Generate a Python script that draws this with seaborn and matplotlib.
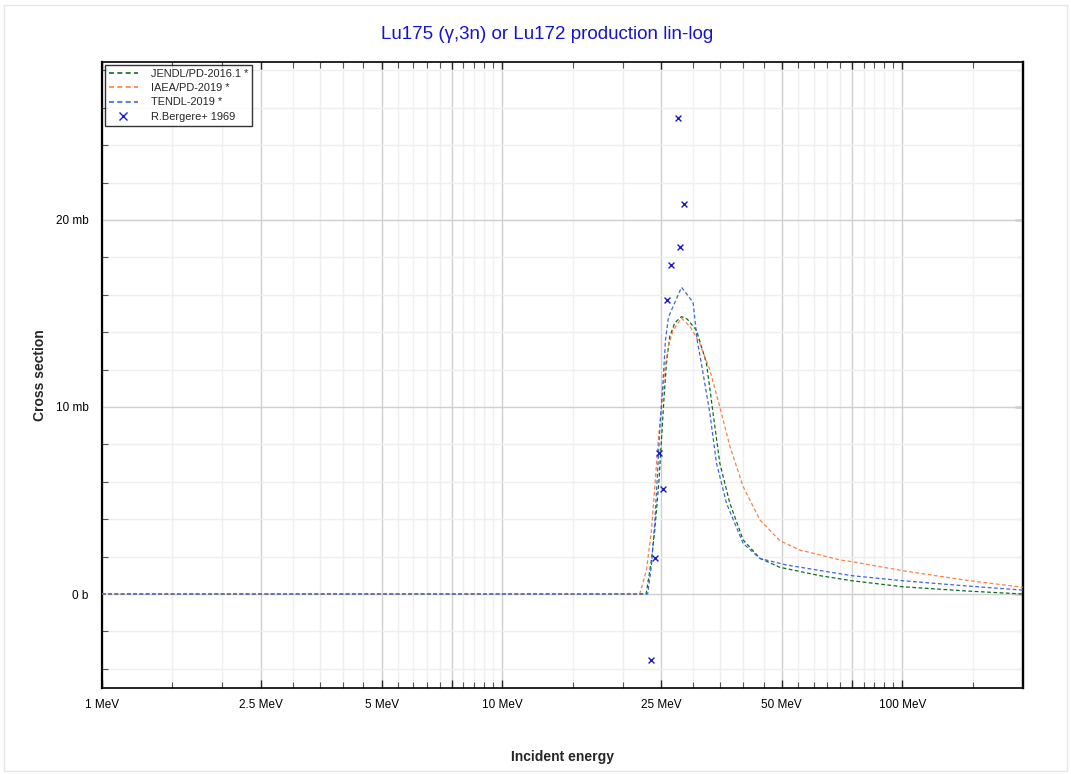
import pandas as pd
import matplotlib
matplotlib.use("Agg")
import matplotlib.pyplot as plt
import matplotlib.ticker as mticker
from matplotlib.lines import Line2D
from matplotlib.patches import Rectangle
import seaborn as sns

# energies in MeV, cross sections in mb
jendl_e = [1, 22.9, 23.6, 24.06, 24.66, 25.0, 25.39, 25.74, 26.23, 27.0, 28.06,
           29.0, 30.59, 32.4, 33.66, 34.99, 37.07, 40.02, 44.06, 49.4, 62.24,
           74.8, 100, 145, 200]
jendl_xs = [0, 0, 1.8, 3.4, 6.1, 8.2, 10.55, 12.35, 13.76, 14.5, 14.83,
            14.7, 14.1, 12.34, 9.66, 6.99, 4.85, 2.89, 1.91, 1.43, 0.98,
            0.71, 0.39, 0.16, 0.0]

iaea_e = [1, 22.07, 22.94, 23.61, 24.06, 24.52, 25.01, 25.49, 25.98, 26.74,
          28.06, 29.5, 31.17, 33.02, 34.99, 37.07, 40.02, 44.06, 49.43, 55.46,
          59.88, 69.84, 74.83, 100, 145, 200]
iaea_xs = [0, 0, 1.28, 3.4, 5.7, 8.07, 10.0, 11.98, 13.2, 14.1,
           14.75, 14.3, 13.4, 12.0, 10.0, 7.9, 5.74, 3.96, 2.85, 2.35,
           2.18, 1.82, 1.73, 1.25, 0.73, 0.36]

tendl_e = [1, 23.1, 23.6, 24.06, 24.5, 24.76, 25.24, 25.6, 26.03, 28.06, 30.0,
           30.69, 31.48, 33.02, 34.32, 36.36, 40.02, 44.06, 51.36, 74.83,
           100.2, 144.9, 200]
tendl_xs = [0, 0, 1.5, 3.8, 6.8, 8.8, 11.4, 13.6, 14.8, 16.4, 15.6,
            13.6, 12.3, 9.7, 7.0, 4.85, 2.7, 1.9, 1.55, 0.98,
            0.71, 0.43, 0.21]

exp_e = [23.5, 24.06, 24.6, 25.2, 25.8, 26.4, 27.5, 27.9, 28.4]
exp_xs = [-3.53, 1.93, 7.54, 5.6, 15.7, 17.6, 25.45, 18.55, 20.86]

labels = ["JENDL/PD-2016.1 *", "IAEA/PD-2019 *", "TENDL-2019 *", "R.Bergere+ 1969"]
colors = ["#0a6e1e", "#ff8040", "#3a66e6", "#1a1acc"]

x_major = [1, 2.5, 5, 7.5, 10, 25, 50, 75, 100]
x_labels = {1: "1 MeV", 2.5: "2.5 MeV", 5: "5 MeV", 10: "10 MeV",
            25: "25 MeV", 50: "50 MeV", 100: "100 MeV"}
x_minor = [1.5, 2, 3, 3.5, 4, 4.5, 5.5, 6, 6.5, 7, 8, 8.5, 9, 9.5,
           15, 20, 30, 35, 40, 45, 55, 60, 65, 70, 80, 85, 90, 95, 150]

sns.set_style("white")
plt.rcParams["font.family"] = ["Liberation Sans", "DejaVu Sans"]

fig = plt.figure(figsize=(10.71, 7.74), dpi=100)
ax = fig.add_axes([0.0952, 0.111, 0.8598, 0.809])

series = [(jendl_e, jendl_xs), (iaea_e, iaea_xs), (tendl_e, tendl_xs)]
for (e, xs), lab, col in zip(series, labels[:3], colors[:3]):
    df = pd.DataFrame({"energy": e, "xs": xs})
    sns.lineplot(data=df, x="energy", y="xs", ax=ax, color=col, lw=0.9,
                 linestyle=(0, (3, 2)), sort=False, estimator=None, zorder=3)

exp_df = pd.DataFrame({"energy": exp_e, "xs": exp_xs})
sns.scatterplot(data=exp_df, x="energy", y="xs", ax=ax, marker="x", s=18,
                color=colors[3], linewidth=1.0, zorder=4)

ax.set_xscale("log")
ax.set_xlim(1, 200)
ax.set_ylim(-5.03, 28.45)

ax.xaxis.set_major_locator(mticker.FixedLocator(x_major))
ax.xaxis.set_minor_locator(mticker.FixedLocator(x_minor))
ax.xaxis.set_major_formatter(mticker.FuncFormatter(lambda v, p: x_labels.get(round(v, 2), "")))
ax.xaxis.set_minor_formatter(mticker.NullFormatter())

ax.yaxis.set_major_locator(mticker.MultipleLocator(10))
ax.yaxis.set_minor_locator(mticker.MultipleLocator(2))
ax.yaxis.set_major_formatter(mticker.FuncFormatter(lambda v, p: "0 b" if abs(v) < 1e-9 else f"{v:g} mb"))

ax.grid(which="major", color="#cfcfcf", lw=1.0, zorder=0)
ax.grid(which="minor", color="#efefef", lw=1.0, zorder=0)
ax.set_axisbelow(True)

ax.tick_params(which="major", axis="y", direction="out", length=6, width=1,
               labelsize=8.5, colors="#333333", labelcolor="black")
ax.tick_params(which="minor", axis="y", direction="in", length=4, width=0.8,
               left=True, colors="#555555")
ax.tick_params(which="major", axis="x", direction="in", length=6, width=1,
               labelsize=8.5, top=True, bottom=True, pad=8, labelcolor="black")
ax.tick_params(which="minor", axis="x", direction="in", length=4, width=0.8,
               top=True, bottom=True, colors="#555555")

# right side ticks point inward
right = ax.secondary_yaxis("right")
right.yaxis.set_major_locator(mticker.MultipleLocator(10))
right.yaxis.set_minor_locator(mticker.MultipleLocator(2))
right.tick_params(which="major", direction="in", length=6, width=1,
                  labelright=False, colors="#333333")
right.tick_params(which="minor", direction="in", length=4, width=0.8, colors="#555555")
right.spines["right"].set_linewidth(1.6)

for side in ["left", "right", "top", "bottom"]:
    ax.spines[side].set_color("black")
    ax.spines[side].set_linewidth(1.2)
ax.spines["left"].set_linewidth(1.6)
ax.spines["right"].set_linewidth(1.6)

ax.set_xlabel("Incident energy", fontsize=10, fontweight="bold", labelpad=28)
ax.set_ylabel("Cross section", fontsize=10, fontweight="bold", labelpad=6.5)
fig.text(0.511, 0.955, "Lu175 (\u03b3,3n) or Lu172 production lin-log", color="#1414d2",
         fontsize=13.5, ha="center", va="center")

handles = [Line2D([], [], color=c, lw=1.2, linestyle=(0, (3, 2))) for c in colors[:3]]
handles.append(Line2D([], [], color=colors[3], marker="x", linestyle="none",
                      markersize=6, markeredgewidth=1.0))
leg = ax.legend(handles, labels, loc="upper left", fontsize=7.9, frameon=True,
                fancybox=False, edgecolor="black", borderaxespad=0.25,
                handlelength=2.6, handletextpad=1.2, labelspacing=0.38,
                borderpad=0.4)
leg.get_frame().set_linewidth(1.0)

fig.patches.append(Rectangle((0.004, 0.004), 0.992, 0.990, transform=fig.transFigure,
                             fill=False, edgecolor="#e6e6e6", lw=1))

fig.savefig("out.png", dpi=100)
